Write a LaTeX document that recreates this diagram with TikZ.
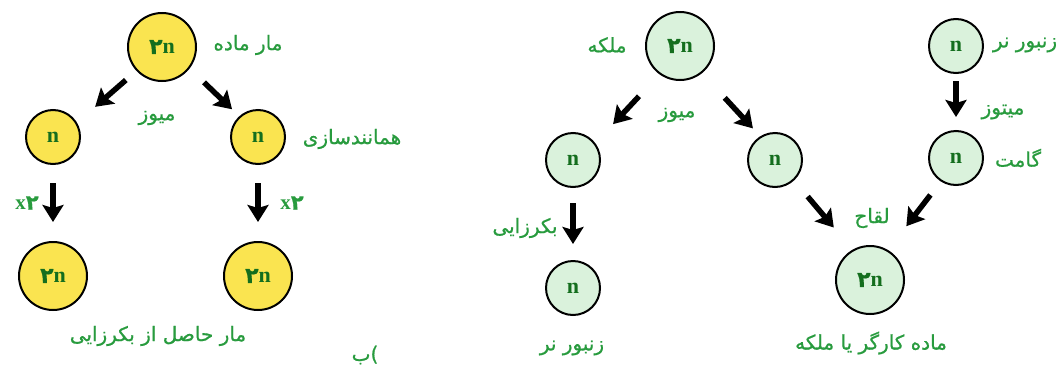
\documentclass[tikz,border=0pt]{standalone}
\usepackage{fontspec}
\usetikzlibrary{arrows.meta}
\TeXXeTstate=1
\newfontfamily\fa[Script=Arabic,FakeBold=0.8]{DejaVu Sans}
\newfontfamily\nfont{Liberation Serif}
\definecolor{lbl}{RGB}{40,155,62}
\definecolor{ntext}{RGB}{20,110,30}
\definecolor{yel}{RGB}{250,228,80}
\definecolor{mint}{RGB}{218,242,220}
\newcommand\rl[1]{\beginR #1\endR}
\newcommand\twon{{\fa ۲}n}
\tikzset{
  cell/.style={circle,draw=black,line width=2pt,inner sep=0pt,text=ntext,
    font=\nfont\bfseries\fontsize{22}{22}\selectfont},
  hap/.style={cell,minimum size=54pt},
  dip/.style={cell,minimum size=68pt},
  ycell/.style={fill=yel},
  gcell/.style={fill=mint},
  lbl/.style={text=lbl,font=\fa\fontsize{20}{23}\selectfont,inner sep=0pt},
  times/.style={text=lbl,font=\nfont\bfseries\fontsize{21}{21}\selectfont,inner sep=0pt},
  arr/.style={line width=5.5pt,-{Stealth[length=17pt,width=21pt,inset=3pt]}}
}
\begin{document}
\begin{tikzpicture}[x=1pt,y=-1pt]
\useasboundingbox (0,0) rectangle (1064,367);

% ---- snake: parthenogenesis ----
\node[dip,ycell] (L0) at (162,47) {\twon};
\node[hap,ycell] (L1) at (53,137) {n};
\node[hap,ycell] (L2) at (258,137) {n};
\node[dip,ycell] (L3) at (53,276) {\twon};
\node[dip,ycell] (L4) at (258,276) {\twon};

\draw[arr,shorten <=14pt,shorten >=24pt] (L0.223) -- (L1.31);
\draw[arr,shorten <=20pt,shorten >=10pt] (L0.322) -- (L2.132);
\draw[arr,shorten <=18pt,shorten >=19pt] (L1.south) -- (L3.north);
\draw[arr,shorten <=18pt,shorten >=19pt] (L2.south) -- (L4.north);

\node[lbl] (tL0) at (248,45) {\rl{مار ماده}};
\node[lbl] (tMei) at (157,118) {\rl{میوز}};
\node[lbl] (tDup) at (352,139) {\rl{همانندسازی}};
\node[times] (tx1) at (27,203) {x{\fa\bfseries ۲}};
\node[times] (tx2) at (292,203) {x{\fa\bfseries ۲}};
\node[lbl] (tRes) at (158,336) {\rl{مار حاصل از بکرزایی}};
\node[lbl] (tB) at (365,355) {\mbox{ب}\mbox{)}};

% ---- honeybee ----
\node[dip,gcell] (R0) at (680,46) {\twon};
\node[hap,gcell] (R1) at (573,160) {n};
\node[hap,gcell] (R2) at (775,160) {n};
\node[hap,gcell] (R3) at (573,288) {n};
\node[hap,gcell] (R4) at (956,46) {n};
\node[hap,gcell] (R5) at (956,158) {n};
\node[dip,gcell] (R6) at (870,280) {\twon};

\draw[arr,shorten <=30pt,shorten >=26pt] (R0.234.6) -- (R1.37.3);
\draw[arr,shorten <=33.5pt,shorten >=10.7pt] (R0.309.6) -- (R2.122);
\draw[arr,shorten <=7pt,shorten >=13pt] (R4.south) -- (R5.north);
\draw[arr,shorten <=15pt,shorten >=16pt] (R1.south) -- (R3.north);
\draw[arr,shorten <=21pt,shorten >=29pt] (R2.313.3) -- (R6.120.2);
\draw[arr,shorten <=17pt,shorten >=30pt] (R5.237) -- (R6.59);

\node[lbl] (tQ) at (607,45) {\rl{ملکه}};
\node[lbl] (tMei2) at (677,115) {\rl{میوز}};
\node[lbl] (tDr1) at (1025,45) {\rl{زنبور نر}};
\node[lbl] (tMit) at (1003,112) {\rl{میتوز}};
\node[lbl] (tGam) at (1018,158) {\rl{گامت}};
\node[lbl] (tPar) at (525,228) {\rl{بکرزایی}};
\node[lbl] (tDr2) at (572,348) {\rl{زنبور نر}};
\node[lbl] (tFer) at (872,218) {\rl{لقاح}};
\node[lbl] (tFem) at (871,343) {\rl{ماده کارگر یا ملکه}};
\end{tikzpicture}
\end{document}
